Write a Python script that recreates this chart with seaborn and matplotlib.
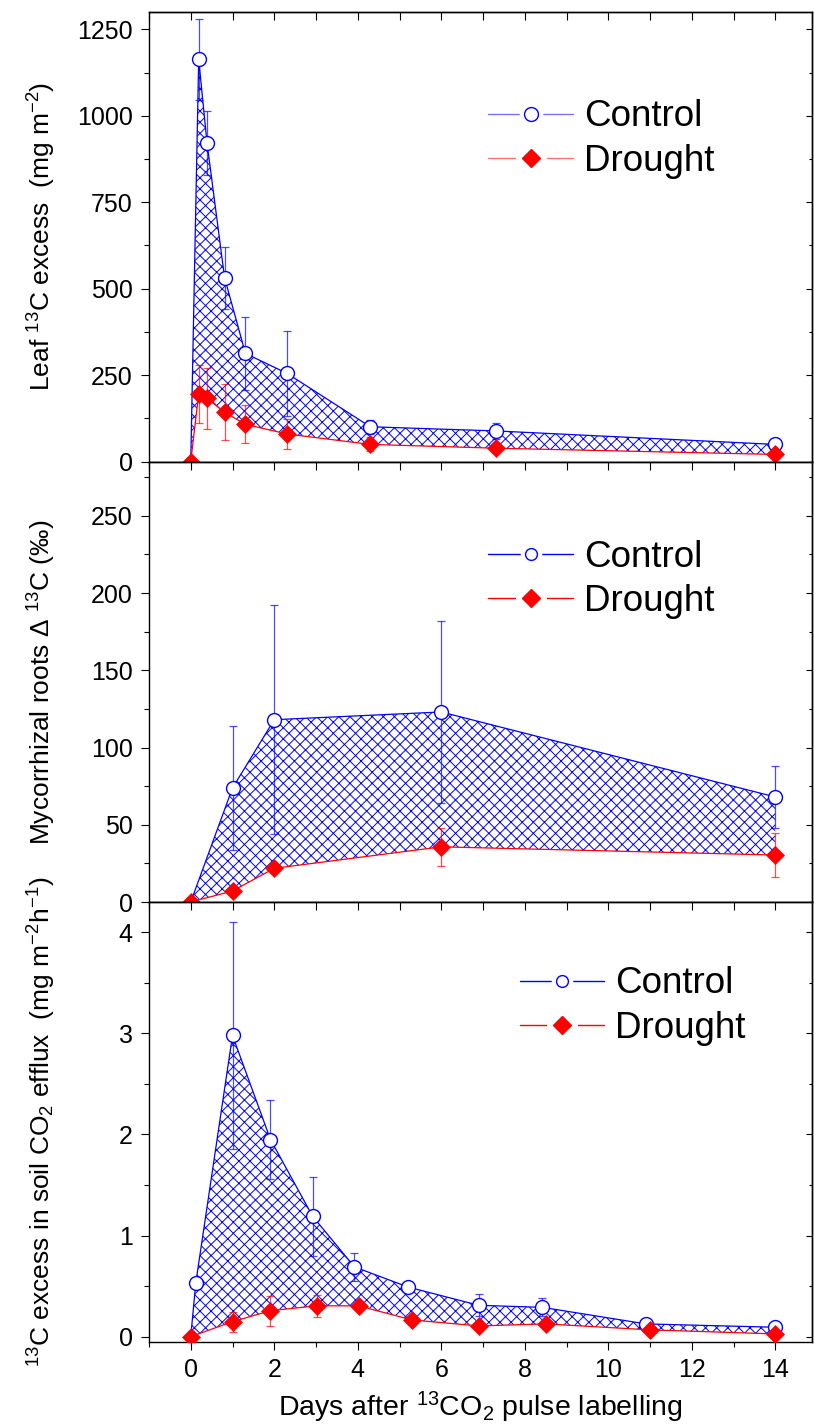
import matplotlib as mpl
import matplotlib.pyplot as plt
from matplotlib.lines import Line2D
from matplotlib.legend_handler import HandlerTuple
from matplotlib.ticker import MultipleLocator, NullFormatter
import seaborn as sns

# Leaf 13C excess (mg m-2)
leaf_days = [0, 0.19, 0.39, 0.81, 1.31, 2.31, 4.3, 7.3, 14]
leaf_control = [0, 1164, 921, 532, 313, 255, 101, 89, 50]
leaf_control_sd = [0, 117, 93, 90, 106, 122, 20, 24, 8]
leaf_drought = [0, 196, 183, 143, 108, 80, 50, 39, 21]
leaf_drought_sd = [0, 84, 88, 81, 55, 44, 20, 10, 6]

# Mycorrhizal roots delta 13C (permil)
root_days = [0, 1, 2, 6, 14]
root_control = [0, 73.8, 118, 123, 68]
root_control_sd = [0, 40, 74, 59, 20]
root_drought = [0, 7.1, 21.8, 35.7, 30.4]
root_drought_sd = [0, 2, 3, 12.5, 14]

# 13C excess in soil CO2 efflux (mg m-2 h-1)
soil_days_control = [0, 0.12, 1, 1.91, 2.92, 3.92, 5.21, 6.9, 8.42, 10.9, 14]
soil_control = [0, 0.53, 2.98, 1.95, 1.19, 0.69, 0.49, 0.31, 0.29, 0.126, 0.093]
soil_control_sd = [0, 0, 1.12, 0.39, 0.39, 0.14, 0.03, 0.11, 0.09, 0.02, 0.02]
soil_days_drought = [0, 1, 1.91, 3.02, 4.02, 5.3, 6.9, 8.5, 11.0, 14]
soil_drought = [0, 0.148, 0.257, 0.305, 0.305, 0.165, 0.106, 0.126, 0.067, 0.027]
soil_drought_sd = [0, 0.1, 0.15, 0.11, 0.03, 0.03, 0.02, 0.02, 0.02, 0.01]

labels = ['Control', 'Drought']

sns.set_style('ticks')
mpl.rcParams['font.family'] = ['Liberation Sans', 'DejaVu Sans']
mpl.rcParams['mathtext.fontset'] = 'custom'
mpl.rcParams['mathtext.rm'] = 'Liberation Sans'
mpl.rcParams['mathtext.default'] = 'regular'
mpl.rcParams['hatch.linewidth'] = 0.7
mpl.rcParams['axes.linewidth'] = 1.0
mpl.rcParams['axes.edgecolor'] = 'black'
for key in ['text.color', 'axes.labelcolor', 'xtick.color', 'ytick.color']:
    mpl.rcParams[key] = 'black'

BLUE = '#0000ff'
RED = '#ff0000'

fig = plt.figure(figsize=(8.14, 14.27), dpi=100)
left, width = 149 / 814, (812 - 149) / 814
rows = [(12, 461.7), (461.7, 902), (902, 1341.7)]
axes = [fig.add_axes([left, 1 - b / 1427, width, (b - t) / 1427]) for t, b in rows]


def legend_handle(color, marker, mfc, ms, alpha):
    line = Line2D([], [], color=color, lw=1, alpha=alpha)
    gap = Line2D([], [], ls='none', marker=marker, ms=ms + 6,
                 markerfacecolor='white', markeredgecolor='white')
    mk = Line2D([], [], ls='none', marker=marker, ms=ms, markerfacecolor=mfc,
                markeredgecolor=color, markeredgewidth=1)
    return (line, gap, mk)


def panel(ax, xc, yc, ec, xd, yd, ed, ylim, major, ylabel, leg_xy, leg_alpha, leg_ms):
    # hatched area between the two treatments
    poly_x = list(xc) + list(xd)[::-1]
    poly_y = list(yc) + list(yd)[::-1]
    ax.fill(poly_x, poly_y, facecolor='none', edgecolor=BLUE, hatch='xxx',
            linewidth=0, zorder=1)

    ax.errorbar(xc, yc, yerr=ec, fmt='none', ecolor=BLUE, elinewidth=0.9,
                capsize=3, capthick=0.9, alpha=0.7, zorder=2)
    ax.errorbar(xd, yd, yerr=ed, fmt='none', ecolor=RED, elinewidth=0.9,
                capsize=3, capthick=0.9, alpha=0.7, zorder=2)

    sns.lineplot(x=xc, y=yc, ax=ax, color=BLUE, linewidth=0.9, marker='o',
                 markersize=10, markerfacecolor='white', markeredgecolor=BLUE,
                 markeredgewidth=1, markevery=list(range(1, len(xc))), zorder=3)
    sns.lineplot(x=xd, y=yd, ax=ax, color=RED, linewidth=0.9, marker='D',
                 markersize=8.8, markerfacecolor=RED, markeredgecolor=RED,
                 markeredgewidth=0.5, zorder=4)

    ax.set_xlim(-1, 14.88)
    ax.set_ylim(*ylim)
    ax.xaxis.set_major_locator(MultipleLocator(2))
    ax.xaxis.set_minor_locator(MultipleLocator(1))
    ax.yaxis.set_major_locator(MultipleLocator(major))
    ax.yaxis.set_minor_locator(MultipleLocator(major / 2))
    ax.tick_params(which='both', direction='out', width=0.8, color='black')
    ax.tick_params(axis='y', which='major', length=5.8, labelsize=18, pad=6)
    ax.tick_params(axis='y', which='minor', length=3.6)
    ax.tick_params(axis='x', which='major', length=5.4, labelsize=18, pad=6)
    ax.tick_params(axis='x', which='minor', length=3.6)

    # inward ticks on the right and top
    sy = ax.secondary_yaxis('right')
    sy.yaxis.set_major_locator(MultipleLocator(major))
    sy.yaxis.set_minor_locator(MultipleLocator(major / 2))
    sy.yaxis.set_major_formatter(NullFormatter())
    sy.tick_params(which='both', direction='in', width=0.8)
    sy.tick_params(which='major', length=4.3)
    sy.tick_params(which='minor', length=2.2)
    sx = ax.secondary_xaxis('top')
    sx.xaxis.set_major_locator(MultipleLocator(2))
    sx.xaxis.set_minor_locator(MultipleLocator(1))
    sx.xaxis.set_major_formatter(NullFormatter())
    sx.tick_params(which='both', direction='in', length=5.8, width=0.8)

    ax.set_ylabel(ylabel, fontsize=19)
    ax.yaxis.set_label_coords(-0.138, 0.5)
    ax.set_xlabel('')

    handles = [legend_handle(BLUE, 'o', 'white', leg_ms[0], leg_alpha),
               legend_handle(RED, 'D', RED, leg_ms[1], leg_alpha)]
    ax.legend(handles=handles, labels=labels,
              handler_map={tuple: HandlerTuple(ndivide=1, pad=0)},
              loc='center left', bbox_to_anchor=leg_xy, frameon=False,
              fontsize=26.5, handlelength=2.3, handletextpad=0.3,
              labelspacing=0.25, borderpad=0, borderaxespad=0)


panel(axes[0], leaf_days, leaf_control, leaf_control_sd,
      leaf_days, leaf_drought, leaf_drought_sd,
      (0, 1300), 250, r'Leaf $^{13}$C excess  (mg m$^{-2}$)',
      (0.512, 0.7176), 0.55, (10, 9.5))
panel(axes[1], root_days, root_control, root_control_sd,
      root_days, root_drought, root_drought_sd,
      (0, 285), 50, r'Mycorrhizal roots Δ $^{13}$C (‰)',
      (0.512, 0.732), 1.0, (8.5, 9.5))
panel(axes[2], soil_days_control, soil_control, soil_control_sd,
      soil_days_drought, soil_drought, soil_drought_sd,
      (-0.05, 4.3), 1, r'$^{13}$C excess in soil CO$_2$ efflux  (mg m$^{-2}$h$^{-1}$)',
      (0.559, 0.7635), 1.0, (8.5, 9.5))

for ax in axes[:2]:
    ax.tick_params(labelbottom=False)
axes[2].set_xlabel(r'Days after $^{13}$CO$_2$ pulse labelling', fontsize=20.5, labelpad=6)

fig.savefig('out.png', dpi=100)
